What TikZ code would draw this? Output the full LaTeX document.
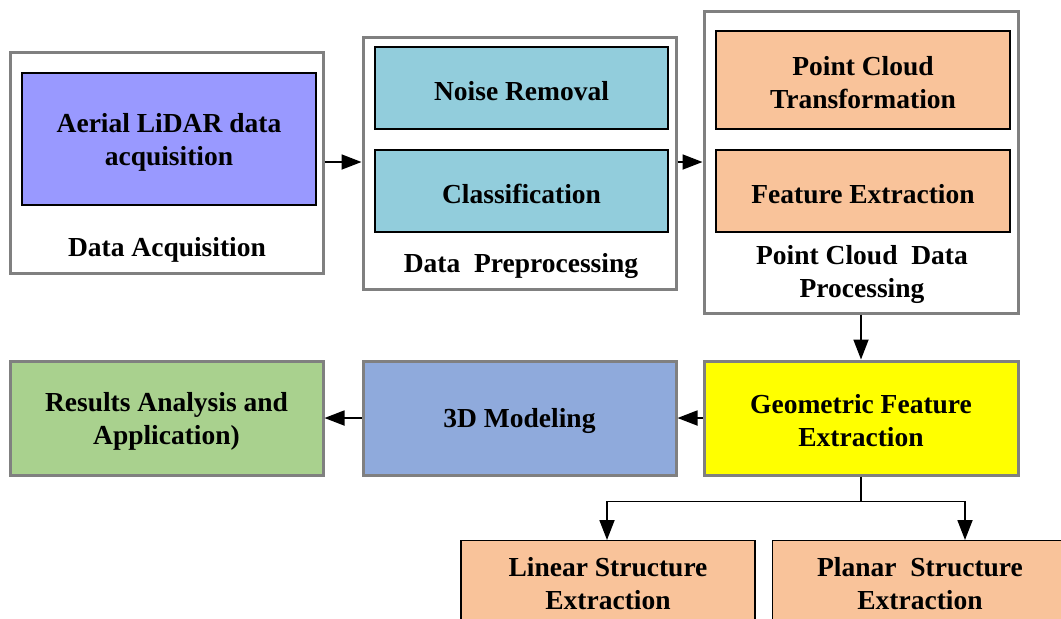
\documentclass[tikz,border=0pt]{standalone}
\usepackage{fontspec}
\setmainfont{Liberation Serif}
\usetikzlibrary{arrows.meta,calc}
\definecolor{cpurple}{HTML}{9999FF}
\definecolor{cteal}{HTML}{92CDDC}
\definecolor{cpeach}{HTML}{F9C39A}
\definecolor{cblue}{HTML}{8FAADC}
\definecolor{cgreen}{HTML}{A9D18E}
\definecolor{cgray}{HTML}{808080}
\definecolor{cyellow}{HTML}{FFFF00}
\tikzset{
  txt/.style={font=\fontsize{13.75}{16.5}\selectfont\bfseries, align=center},
  lbl/.style={label={[txt,yshift=-1.5pt]center:#1}},
  outerbox/.style={draw=cgray, line width=1.5pt, fill=white, inner sep=0pt},
  innerbox/.style={draw=black, line width=0.6pt, inner sep=0pt},
  graybox/.style={draw=cgray, line width=1.5pt, inner sep=0pt},
  conn/.style={line width=0.9pt, -{Triangle[length=10pt,width=7.5pt]}}
}
\begin{document}
\begin{tikzpicture}[x=0.5pt,y=-0.5pt]
\useasboundingbox (0,0) rectangle (1061,618);
\clip (0,0) rectangle (1061,618);
% outer group boxes
\node[outerbox, minimum width=156.5pt, minimum height=110.5pt] (g1) at (166.5,162.5) {};
\node[outerbox, minimum width=156.5pt, minimum height=126pt] (g2) at (519.5,163) {};
\node[outerbox, minimum width=157pt, minimum height=151pt] (g3) at (861,162) {};
% inner boxes
\node[innerbox, fill=cpurple, minimum width=147pt, minimum height=66pt, lbl={Aerial LiDAR data\\acquisition}] (acq) at (169,139) {};
\node[txt] (l1) at (167,250) {Data Acquisition};
\node[innerbox, fill=cteal, minimum width=146.5pt, minimum height=41pt, lbl={Noise Removal}] (noise) at (521.5,88) {};
\node[innerbox, fill=cteal, minimum width=146.5pt, minimum height=41pt, lbl={Classification}] (cls) at (521.5,191) {};
\node[txt] (l2) at (521,266) {Data\ \ Preprocessing};
\node[innerbox, fill=cpeach, minimum width=147pt, minimum height=49pt, lbl={Point Cloud\\Transformation}] (pct) at (863,80) {};
\node[innerbox, fill=cpeach, minimum width=147pt, minimum height=41pt, lbl={Feature Extraction}] (fe) at (863,191) {};
\node[txt] (l3) at (862,274) {Point Cloud\ \ Data\\Processing};
% bottom row
\node[graybox, fill=cyellow, minimum width=157pt, minimum height=57pt, lbl={Geometric Feature\\Extraction}] (geo) at (861,418) {};
\node[graybox, fill=cblue, minimum width=156.5pt, minimum height=57pt, lbl={3D Modeling}] (mod) at (519.5,418) {};
\node[graybox, fill=cgreen, minimum width=156.5pt, minimum height=57pt, lbl={Results Analysis and\\Application)}] (res) at (166.5,418) {};
% structure boxes
\node[innerbox, fill=cpeach, minimum width=147pt, minimum height=45pt, anchor=north] (lin) at (608,540) {};
\node[txt] (lintxt) at (608,584) {Linear Structure\\Extraction};
\node[innerbox, fill=cpeach, minimum width=160pt, minimum height=45pt, anchor=north west] (pla) at (772,540) {};
\node[txt] (platxt) at (920,584) {Planar\ \ Structure\\Extraction};
% connectors
\draw[conn] (g1.east |- 0,162) -- (g2.west |- 0,162);
\draw[conn] (g2.east |- 0,162) -- (g3.west |- 0,162);
\draw[conn] (g3.south) -- (geo.north);
\draw[conn] (geo.west) -- (mod.east);
\draw[conn] (mod.west) -- (res.east);
\coordinate (j) at ($(geo.south)+(0,25)$);
\draw[line width=0.9pt] (geo.south) -- (j);
\draw[conn] (j) -| ($(lin.north)+(-1,0)$);
\draw[conn] (j) -| ($(pla.north west)+(193,0)$);
\end{tikzpicture}
\end{document}
